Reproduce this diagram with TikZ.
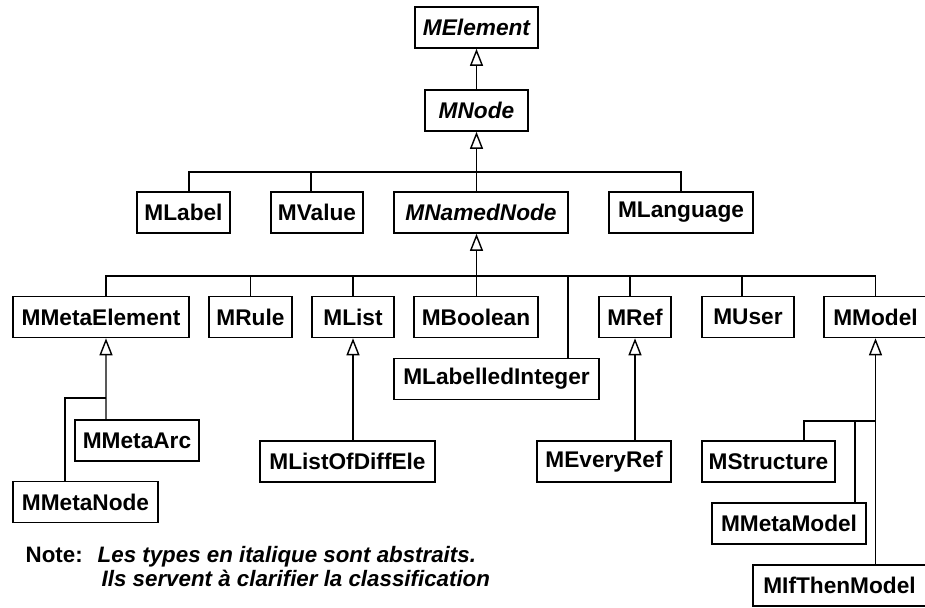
\documentclass[tikz,border=0pt]{standalone}
\usepackage{fontspec}
\setmainfont{Liberation Sans}
\usetikzlibrary{arrows.meta}

\tikzset{
  classbox/.style={draw, line width=0.9pt, inner sep=0pt, minimum height=0.82cm,
    font=\bfseries\fontsize{12.9}{15.5}\selectfont},
  absbox/.style={classbox, font=\bfseries\itshape\fontsize{12.9}{15.5}\selectfont},
  isa/.style={-{Triangle[open, length=0.34cm, width=0.26cm, line width=0.8pt]}},
  wire/.style={line width=0.8pt}
}

\begin{document}
\begin{tikzpicture}[wire]
            \useasboundingbox (0,0) rectangle (18.5,-12.14);

            % Abstract roots
            \node[absbox, minimum width=2.46cm] (elem) at (9.53,-0.55) {MElement};
            \node[absbox, minimum width=2.06cm] (mnode) at (9.53,-2.21) {MNode};

            % Second level
            \node[classbox, minimum width=1.86cm] (label) at (3.67,-4.25) {MLabel};
            \node[classbox, minimum width=1.84cm] (value) at (6.34,-4.25) {MValue};
            \node[absbox, minimum width=3.48cm] (named) at (9.62,-4.25) {MNamedNode};
            \node[classbox, minimum width=2.88cm] (lang) at (13.62,-4.25) {MLanguage};

            % Third level
            \node[classbox, minimum width=3.52cm] (metaelt) at (2.02,-6.34) {MMetaElement};
            \node[classbox, minimum width=1.66cm] (rule) at (5.01,-6.34) {MRule};
            \node[classbox, minimum width=1.64cm] (list) at (7.06,-6.34) {MList};
            \node[classbox, minimum width=2.48cm] (bool) at (9.52,-6.34) {MBoolean};
            \node[classbox, minimum width=1.44cm] (ref) at (12.70,-6.34) {MRef};
            \node[classbox, minimum width=1.84cm] (user) at (14.96,-6.34) {MUser};
            \node[classbox, minimum width=2.06cm] (model) at (17.51,-6.34) {MModel};
            \node[classbox, minimum width=4.10cm] (labint) at (9.93,-7.58) {MLabelledInteger};

            % Leaves
            \node[classbox, minimum width=2.48cm] (metaarc) at (2.74,-8.81) {MMetaArc};
            \node[classbox, minimum width=2.90cm] (metanode) at (1.71,-10.04) {MMetaNode};
            \node[classbox, minimum width=3.50cm] (listdiff) at (6.95,-9.23) {MListOfDiffEle};
            \node[classbox, minimum width=2.68cm] (everyref) at (12.08,-9.23) {MEveryRef};
            \node[classbox, minimum width=2.66cm] (struct) at (15.37,-9.23) {MStructure};
            \node[classbox, minimum width=3.08cm] (metamodel) at (15.78,-10.47) {MMetaModel};
            \node[classbox, minimum width=3.46cm] (ifthen) at (16.79,-11.71) {MIfThenModel};

            % Junctions
            \coordinate (bus1) at (9.53,-3.44);
            \coordinate (bus2) at (9.53,-5.52);
            \coordinate (mej) at (2.12,-7.96);
            \coordinate (modj) at (17.51,-8.42);

            % Inheritance from MNode
            \draw[isa] (mnode.north) -- (elem.south);
            \draw ([xshift=1.1mm]label.north) |- (bus1) -| (lang.north);
            \draw ([xshift=-1.2mm]value.north) -- ([xshift=-1.2mm]value.north |- bus1);
            \draw[isa] (mnode |- named.north) -- (mnode.south);

            % Inheritance from MNamedNode
            \draw ([xshift=1mm]metaelt.north) |- (bus2) -| (model.north);
            \draw (rule.north) -- (rule.north |- bus2);
            \draw (list.north) -- (list.north |- bus2);
            \draw ([xshift=-1mm]ref.north) |- (bus2);
            \draw ([xshift=-1.2mm]user.north) |- (bus2);
            \draw ([xshift=14.3mm]labint.north) |- (bus2);
            \draw[isa] (mnode |- bool.north) -- (mnode |- named.south);

            % Subtrees
            \draw[isa] ([xshift=-6.2mm]metaarc.north) -- ([xshift=1mm]metaelt.south);
            \draw ([xshift=-4.1mm]metanode.north) |- (mej);
            \draw[isa] (listdiff.north -| list.south) -- (list.south);
            \draw[isa] (everyref.north -| ref.south) -- (ref.south);
            \draw[isa] (ifthen.north -| model.south) -- (model.south);
            \draw ([xshift=7.1mm]struct.north) |- (modj);
            \draw ([xshift=13.2mm]metamodel.north) |- (modj);

            % Note
            \node[anchor=base west, inner sep=0pt, font=\bfseries\fontsize{12.7}{13.1}\selectfont] (note) at (0.5,-11.50)
              {\begin{tabular}{@{}l@{\hspace{0.30cm}}l@{}}
                Note: & \itshape Les types en italique sont abstraits.\\
                      & \itshape\hspace{0.08cm}Ils servent à clarifier la classification
               \end{tabular}};
\end{tikzpicture}
\end{document}
